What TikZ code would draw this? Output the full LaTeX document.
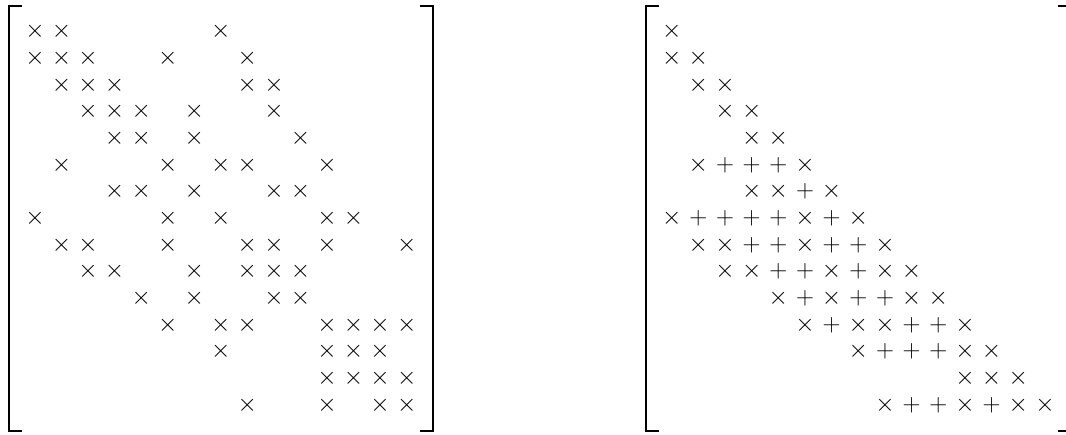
\documentclass[tikz,border=0pt]{standalone}
\begin{document}
\begin{tikzpicture}[x=1pt,y=-1pt,
  sym/.style={inner sep=0pt,outer sep=0pt,anchor=base,font=\fontsize{25}{25}\selectfont},
  brk/.style={line width=2pt,line cap=butt}]
\useasboundingbox (0,0) rectangle (1066,434);
% left matrix brackets
\coordinate (LTL) at (22,6);  \coordinate (LBL) at (22,430.7);
\coordinate (LTR) at (420,6); \coordinate (LBR) at (420,430.7);
\draw[brk] (LTL) -- (9,6) -- (9,430.7) -- (LBL);
\draw[brk] (LTR) -- (433.3,6) -- (433.3,430.7) -- (LBR);
% right matrix brackets
\coordinate (RTL) at (659,6);  \coordinate (RBL) at (659,430.7);
\coordinate (RTR) at (1058,6); \coordinate (RBR) at (1058,430.7);
\draw[brk] (RTL) -- (646,6) -- (646,430.7) -- (RBL);
\draw[brk] (RTR) -- (1071.6,6) -- (1071.6,430.7) -- (RBR);
% left matrix entries
\foreach \r/\cols in {1/{1,2,8},2/{1,2,3,6,9},3/{2,3,4,9,10},4/{3,4,5,7,10},5/{4,5,7,11},
  6/{2,6,8,9,12},7/{4,5,7,10,11},8/{1,6,8,12,13},9/{2,3,6,9,10,12,15},10/{3,4,7,9,10,11},
  11/{5,7,10,11},12/{6,8,9,12,13,14,15},13/{8,12,13,14},14/{12,13,14,15},15/{9,12,14,15}}
  \foreach \c in \cols
    \node[sym] (L-\r-\c) at ({35+(\c-1)*26.55},{31.7+(\r-1)*26.66+6.25}) {$\times$};
% right matrix crosses
\foreach \r/\cols in {1/{1},2/{1,2},3/{2,3},4/{3,4},5/{4,5},6/{2,6},7/{4,5,7},8/{1,6,8},
  9/{2,3,6,9},10/{3,4,7,9,10},11/{5,7,10,11},12/{6,8,9,12},13/{8,12,13},14/{12,13,14},15/{9,12,14,15}}
  \foreach \c in \cols
    \node[sym] (R-\r-\c) at ({671.7+(\c-1)*26.66},{31.7+(\r-1)*26.66+6.25}) {$\times$};
% right matrix pluses
\foreach \r/\cols in {6/{3,4,5},7/{6},8/{2,3,4,5,7},9/{4,5,7,8},10/{5,6,8},11/{6,8,9},
  12/{7,10,11},13/{9,10,11},15/{10,11,13}}
  \foreach \c in \cols
    \node[sym] (R-\r-\c) at ({671.7+(\c-1)*26.66},{31.7+(\r-1)*26.66+6.25}) {$+$};
\end{tikzpicture}
\end{document}
